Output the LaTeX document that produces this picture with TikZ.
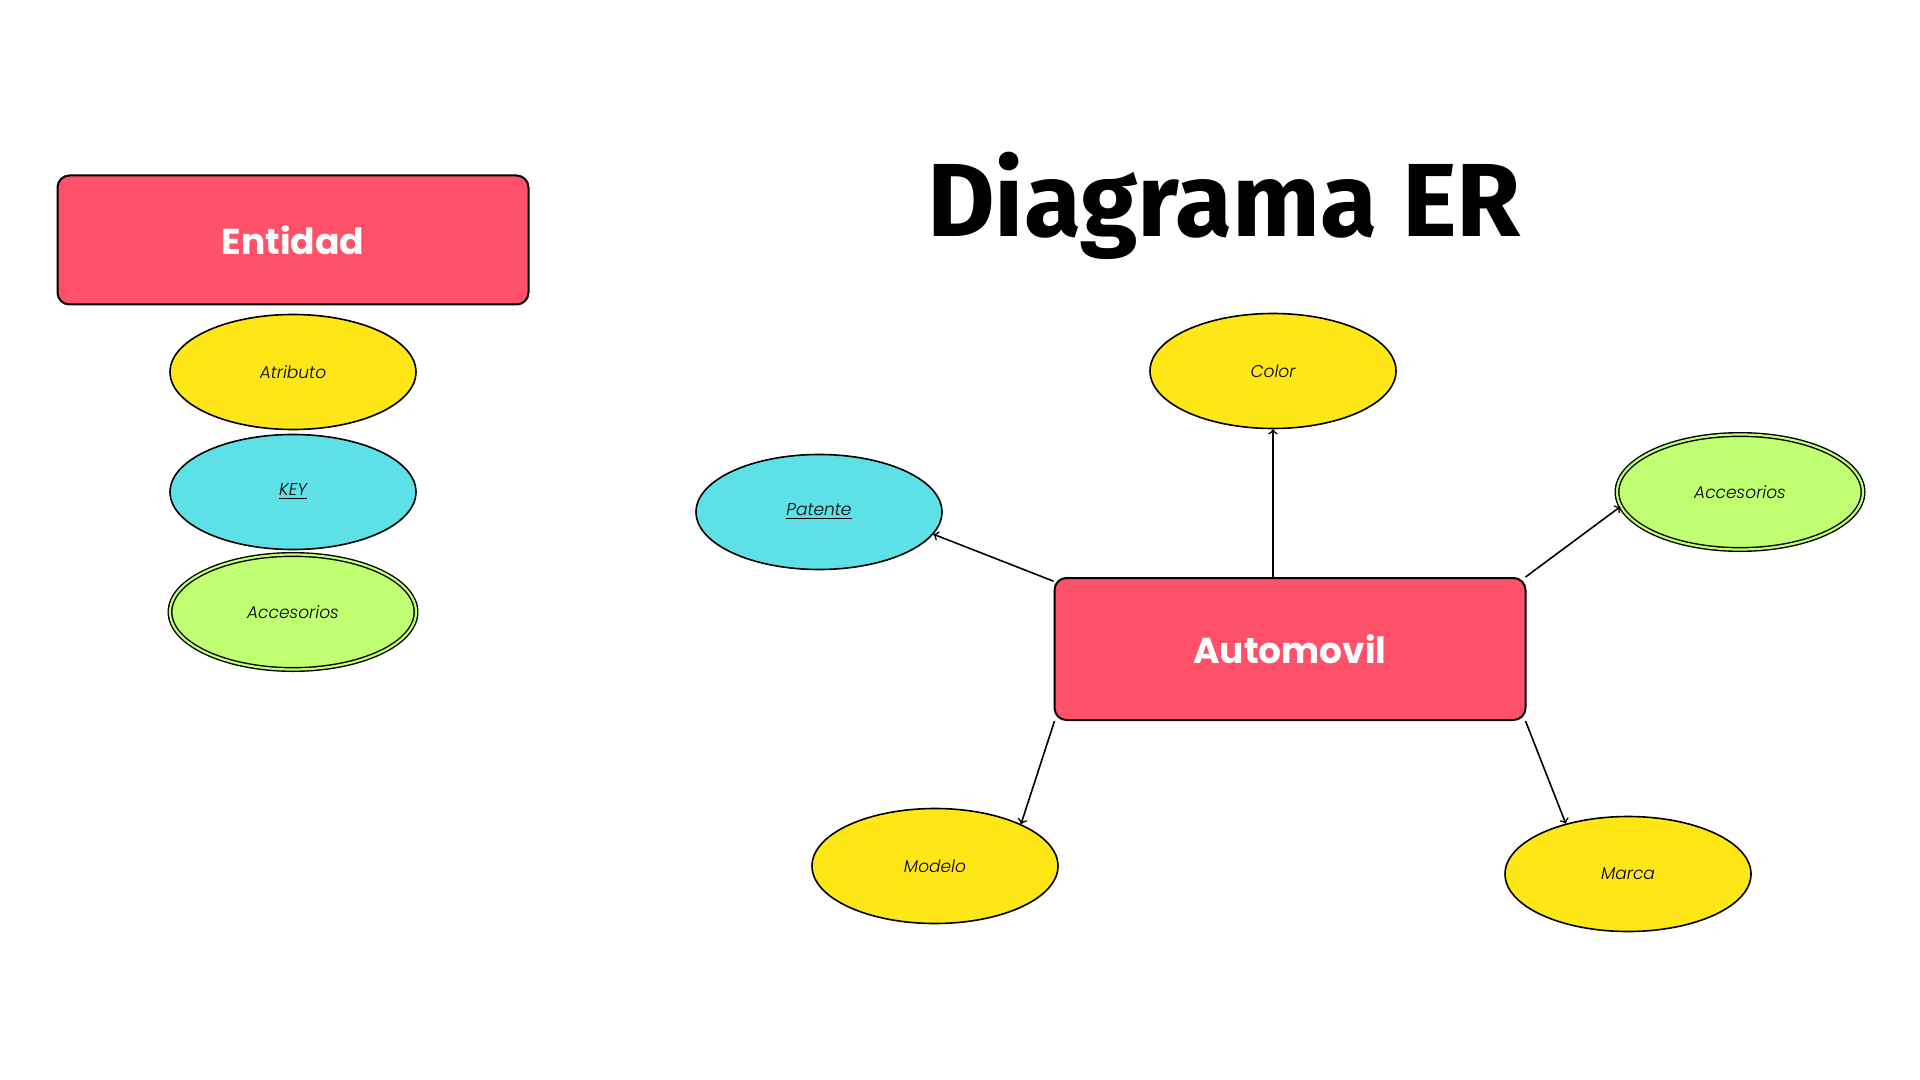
\documentclass[tikz,border=0pt]{standalone}
\usepackage{fontspec}
\setmainfont{Poppins}
\newfontfamily\titlefont{Fira Sans}
\newfontfamily\attrfont{Poppins}[UprightFont=* Light, ItalicFont=* Light Italic]
\usetikzlibrary{arrows,shapes}
\definecolor{entred}{HTML}{FF5169}
\definecolor{attyellow}{HTML}{FFE617}
\definecolor{keycyan}{HTML}{5DE1E6}
\definecolor{multigreen}{HTML}{C1FF72}
\tikzstyle{entity}=[rectangle,rounded corners=6pt,draw=black,line width=1pt,fill=entred,minimum width=235.5pt,text=white,font=\bfseries\fontsize{18}{20}\selectfont]
\tikzstyle{attribute}=[ellipse,draw=black,line width=0.8pt,fill=attyellow,minimum width=123pt,minimum height=57.5pt,inner sep=0pt,font=\attrfont\itshape\fontsize{8.5}{10}\selectfont]
\tikzstyle{keyattr}=[attribute,fill=keycyan]
\tikzstyle{multiattr}=[attribute,fill=multigreen,double=multigreen,double distance=1.1pt,line width=0.7pt]
\tikzstyle{edge}=[draw,line width=0.8pt,->]

\begin{document}
\begin{tikzpicture}[x=0.5pt,y=-0.5pt]

    \useasboundingbox (0,0) rectangle (1920,1080);

    % legend
    \node[entity, minimum height=64.5pt] (ent) at (293,240) {Entidad};
    \node[attribute] (att) at (293,372) {Atributo};
    \node[keyattr] (key) at (293,492) {\underline{KEY}};
    \node[multiattr] (mul) at (293,612) {Accesorios};

    % title
    \node[font=\titlefont\bfseries\fontsize{52}{60}\selectfont, anchor=base] (title) at (1224,237) {Diagrama ER};

    % diagram
    \node[entity, minimum height=71pt] (auto) at (1290,649) {Automovil};

    \foreach \x/\y/\name/\text in {1273/371/col/Color, 935/866/mod/Modelo, 1628/874/mar/Marca}
        \node[attribute] (\name) at (\x,\y) {\text};

    \node[keyattr] (pat) at (819,512) {\underline{Patente}};
    \node[multiattr] (acc) at (1740,492) {Accesorios};

    \path[edge] (col |- auto.north) -- (col);
    \foreach \source/\dest in {auto.164/pat.-11, auto.17.3/acc.187, auto.197.6/mod.26, auto.-17.3/mar.141}
        \path[edge] (\source) -- (\dest);

\end{tikzpicture}
\end{document}
